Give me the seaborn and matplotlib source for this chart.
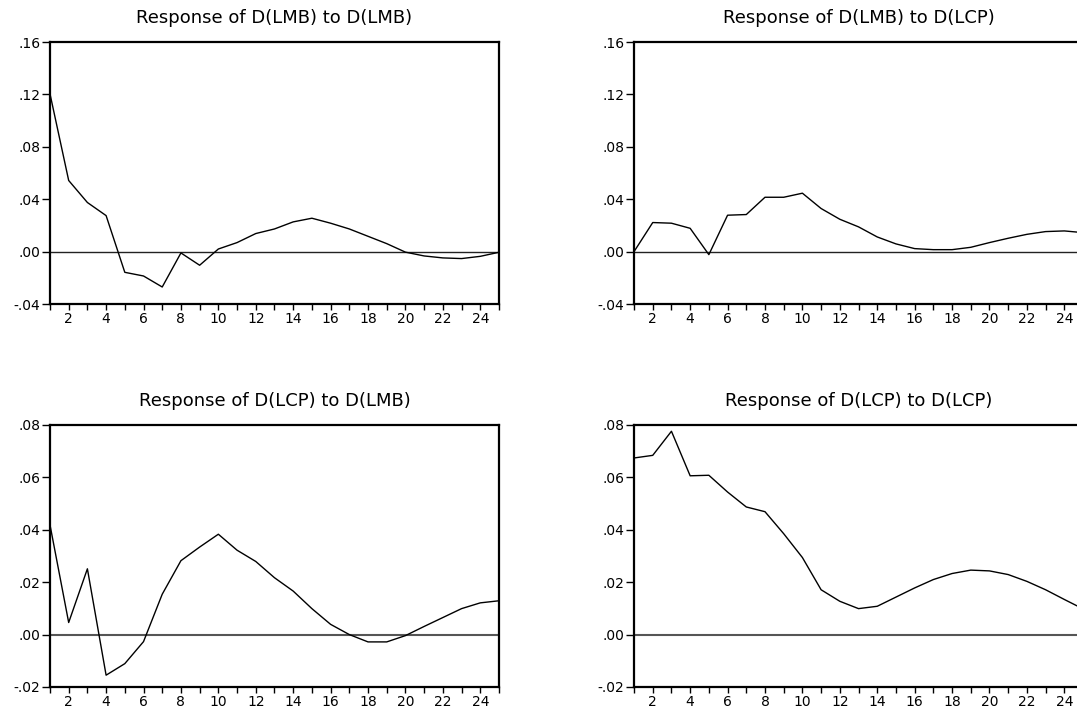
import matplotlib.pyplot as plt
import pandas as pd
import seaborn as sns

# impulse responses, periods 1..25
periods = list(range(1, 26))

lmb_to_lmb = [0.1205, 0.0543, 0.0375, 0.0275, -0.0158, -0.0186, -0.0270, -0.0010, -0.0104, 0.0020,
              0.0069, 0.0138, 0.0173, 0.0227, 0.0255, 0.0217, 0.0173, 0.0117, 0.0061, -0.0004,
              -0.0033, -0.0048, -0.0053, -0.0036, -0.0005]
lmb_to_lcp = [0.0000, 0.0222, 0.0217, 0.0178, -0.0023, 0.0278, 0.0283, 0.0415, 0.0415, 0.0446,
              0.0329, 0.0247, 0.0189, 0.0112, 0.0059, 0.0023, 0.0015, 0.0015, 0.0033, 0.0069,
              0.0102, 0.0132, 0.0153, 0.0158, 0.0145]
lcp_to_lmb = [0.0419, 0.0046, 0.0251, -0.0155, -0.0111, -0.0027, 0.0154, 0.0282, 0.0334, 0.0383,
              0.0322, 0.0279, 0.0217, 0.0166, 0.0099, 0.0039, 0.0000, -0.0028, -0.0028, -0.0004,
              0.0031, 0.0065, 0.0099, 0.0121, 0.0129]
lcp_to_lcp = [0.0674, 0.0684, 0.0776, 0.0606, 0.0608, 0.0544, 0.0487, 0.0469, 0.0385, 0.0294,
              0.0171, 0.0127, 0.0099, 0.0108, 0.0143, 0.0178, 0.0210, 0.0233, 0.0246, 0.0243,
              0.0229, 0.0203, 0.0171, 0.0134, 0.0098]

titles = ["Response of D(LMB) to D(LMB)", "Response of D(LMB) to D(LCP)",
          "Response of D(LCP) to D(LMB)", "Response of D(LCP) to D(LCP)"]
series = [lmb_to_lmb, lmb_to_lcp, lcp_to_lmb, lcp_to_lcp]
y_ticks_top = [-0.04, 0.00, 0.04, 0.08, 0.12, 0.16]
y_ticks_bottom = [-0.02, 0.00, 0.02, 0.04, 0.06, 0.08]

sns.set_theme(style="white")
plt.rcParams['font.family'] = ['DejaVu Sans']

fig = plt.figure(figsize=(10.77, 7.11), dpi=100)

# axes boxes in figure fractions (right column runs past the edge, as in the original)
positions = [
    [0.0464, 0.5724, 0.4169, 0.3685],
    [0.5887, 0.5724, 0.4169, 0.3685],
    [0.0464, 0.0338, 0.4169, 0.3685],
    [0.5887, 0.0338, 0.4169, 0.3685],
]


def fmt(v):
    s = f"{v:.2f}"
    return s.replace("0.", ".", 1)


for i, (pos, title, vals) in enumerate(zip(positions, titles, series)):
    ax = fig.add_axes(pos)
    df = pd.DataFrame({"period": periods, "response": vals})
    ax.axhline(0, color="#222222" if i < 2 else "#555555", lw=1.0 if i < 2 else 1.5, zorder=1)
    sns.lineplot(data=df, x="period", y="response", color="black", lw=1.0, ax=ax, zorder=2)

    yt = y_ticks_top if i < 2 else y_ticks_bottom
    ax.set_ylim(yt[0], yt[-1])
    ax.set_yticks(yt)
    ax.set_yticklabels([fmt(v) for v in yt])
    ax.set_xlim(1, 25)
    ax.set_xticks(periods)
    ax.set_xticklabels([str(p) if p % 2 == 0 else "" for p in periods])
    ax.set_xlabel("")
    ax.set_ylabel("")
    ax.set_title(title, fontsize=13, pad=14, color="black")

    for sp in ax.spines.values():
        sp.set_visible(True)
        sp.set_color("black")
        sp.set_linewidth(1.6)

    ax.tick_params(axis="y", direction="out", length=6, width=1, pad=1,
                   labelsize=10, colors="black", left=True)
    ax.tick_params(axis="x", direction="out", length=4, width=1, pad=2,
                   labelsize=10, colors="black", bottom=True)
    ax.grid(False)

fig.savefig("out.png", dpi=100)
